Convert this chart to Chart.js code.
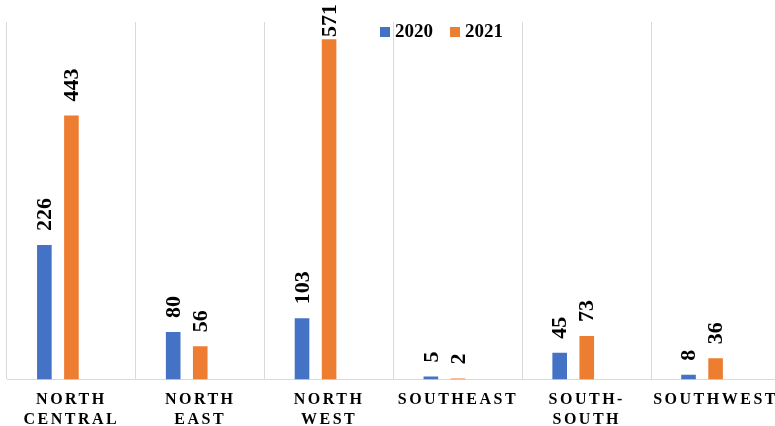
<!DOCTYPE html>
<html lang="en">
<head>
    <meta charset="UTF-8">
    <title>2020 vs 2021 by zone</title>
    <script src="https://cdn.jsdelivr.net/npm/chart.js"></script>
    <style>
        html, body { margin: 0; padding: 0; background: #fff; overflow: hidden; }
        .chart-box { width: 780px; height: 426px; }
    </style>
</head>
<body>
    <div class="chart-box">
        <canvas id="zoneChart"></canvas>
    </div>

    <script>
        // data
        const categories = [['NORTH', 'CENTRAL'], ['NORTH', 'EAST'], ['NORTH', 'WEST'], ['SOUTHEAST'], ['SOUTH-', 'SOUTH'], ['SOUTHWEST']];
        const seriesNames = ['2020', '2021'];
        const values2020 = [226, 80, 103, 5, 45, 8];
        const values2021 = [443, 56, 571, 2, 73, 36];
        const emptySlot = [null, null, null, null, null, null]; // third (empty) series slot, like the original

        const serif = '"Liberation Serif", "Times New Roman", serif';

        // spaced-out x labels: set letterSpacing while the scales are drawn
        const spacing = {
            id: 'spacing',
            beforeDraw(chart) { chart.ctx.letterSpacing = '2.5px'; },
            beforeDatasetsDraw(chart) { chart.ctx.letterSpacing = '0px'; }
        };

        // vertical value labels above the bars
        const valueLabels = {
            id: 'valueLabels',
            afterDatasetsDraw(chart) {
                const ctx = chart.ctx;
                ctx.save();
                ctx.font = 'bold 22px ' + serif;
                ctx.fillStyle = '#000';
                ctx.textAlign = 'left';
                ctx.textBaseline = 'middle';
                [0, 1].forEach(i => {
                    const meta = chart.getDatasetMeta(i);
                    meta.data.forEach((bar, j) => {
                        const txt = String(chart.data.datasets[i].data[j]);
                        const w = ctx.measureText(txt).width;
                        const y = Math.max(bar.y - 14, 4 + w);
                        ctx.save();
                        ctx.translate(bar.x + 1, y);
                        ctx.rotate(-Math.PI / 2);
                        ctx.fillText(txt, 0, 0);
                        ctx.restore();
                    });
                });
                ctx.restore();
            }
        };

        // legend sits inside the plot, top middle-right
        const insideLegend = {
            id: 'insideLegend',
            afterDraw(chart) {
                const ctx = chart.ctx;
                ctx.save();
                ctx.font = 'bold 19px ' + serif;
                ctx.textBaseline = 'middle';
                ctx.textAlign = 'left';
                let x = 380;
                [0, 1].forEach(i => {
                    const ds = chart.data.datasets[i];
                    ctx.fillStyle = ds.backgroundColor;
                    ctx.fillRect(x, 27, 10, 10);
                    ctx.fillStyle = '#000';
                    ctx.fillText(ds.label, x + 15, 32);
                    x += 15 + ctx.measureText(ds.label).width + 17;
                });
                ctx.restore();
            }
        };

        new Chart(document.getElementById('zoneChart'), {
            type: 'bar',
            data: {
                labels: categories,
                datasets: [
                    { label: seriesNames[0], data: values2020, backgroundColor: '#4472C4' },
                    { label: seriesNames[1], data: values2021, backgroundColor: '#ED7D31' },
                    { label: '', data: emptySlot, backgroundColor: 'rgba(0,0,0,0)' }
                ]
            },
            options: {
                responsive: true,
                maintainAspectRatio: false,
                animation: false,
                datasets: { bar: { categoryPercentage: 0.63, barPercentage: 0.54 } },
                layout: { padding: { top: 22, left: 7, right: 0, bottom: -14 } },
                plugins: {
                    legend: { display: false },
                    tooltip: { enabled: false }
                },
                scales: {
                    x: {
                        offset: true,
                        grid: { offset: true, color: '#d9d9d9', lineWidth: 1, drawTicks: false },
                        border: { display: true, color: '#d9d9d9', width: 1 },
                        ticks: {
                            color: '#000',
                            font: { family: serif, size: 16, weight: 'bold', lineHeight: 1.2 },
                            padding: 11,
                            maxRotation: 0,
                            autoSkip: false
                        }
                    },
                    y: {
                        display: false,
                        min: 0,
                        max: 600
                    }
                }
            },
            plugins: [spacing, valueLabels, insideLegend]
        });
    </script>
</body>
</html>
